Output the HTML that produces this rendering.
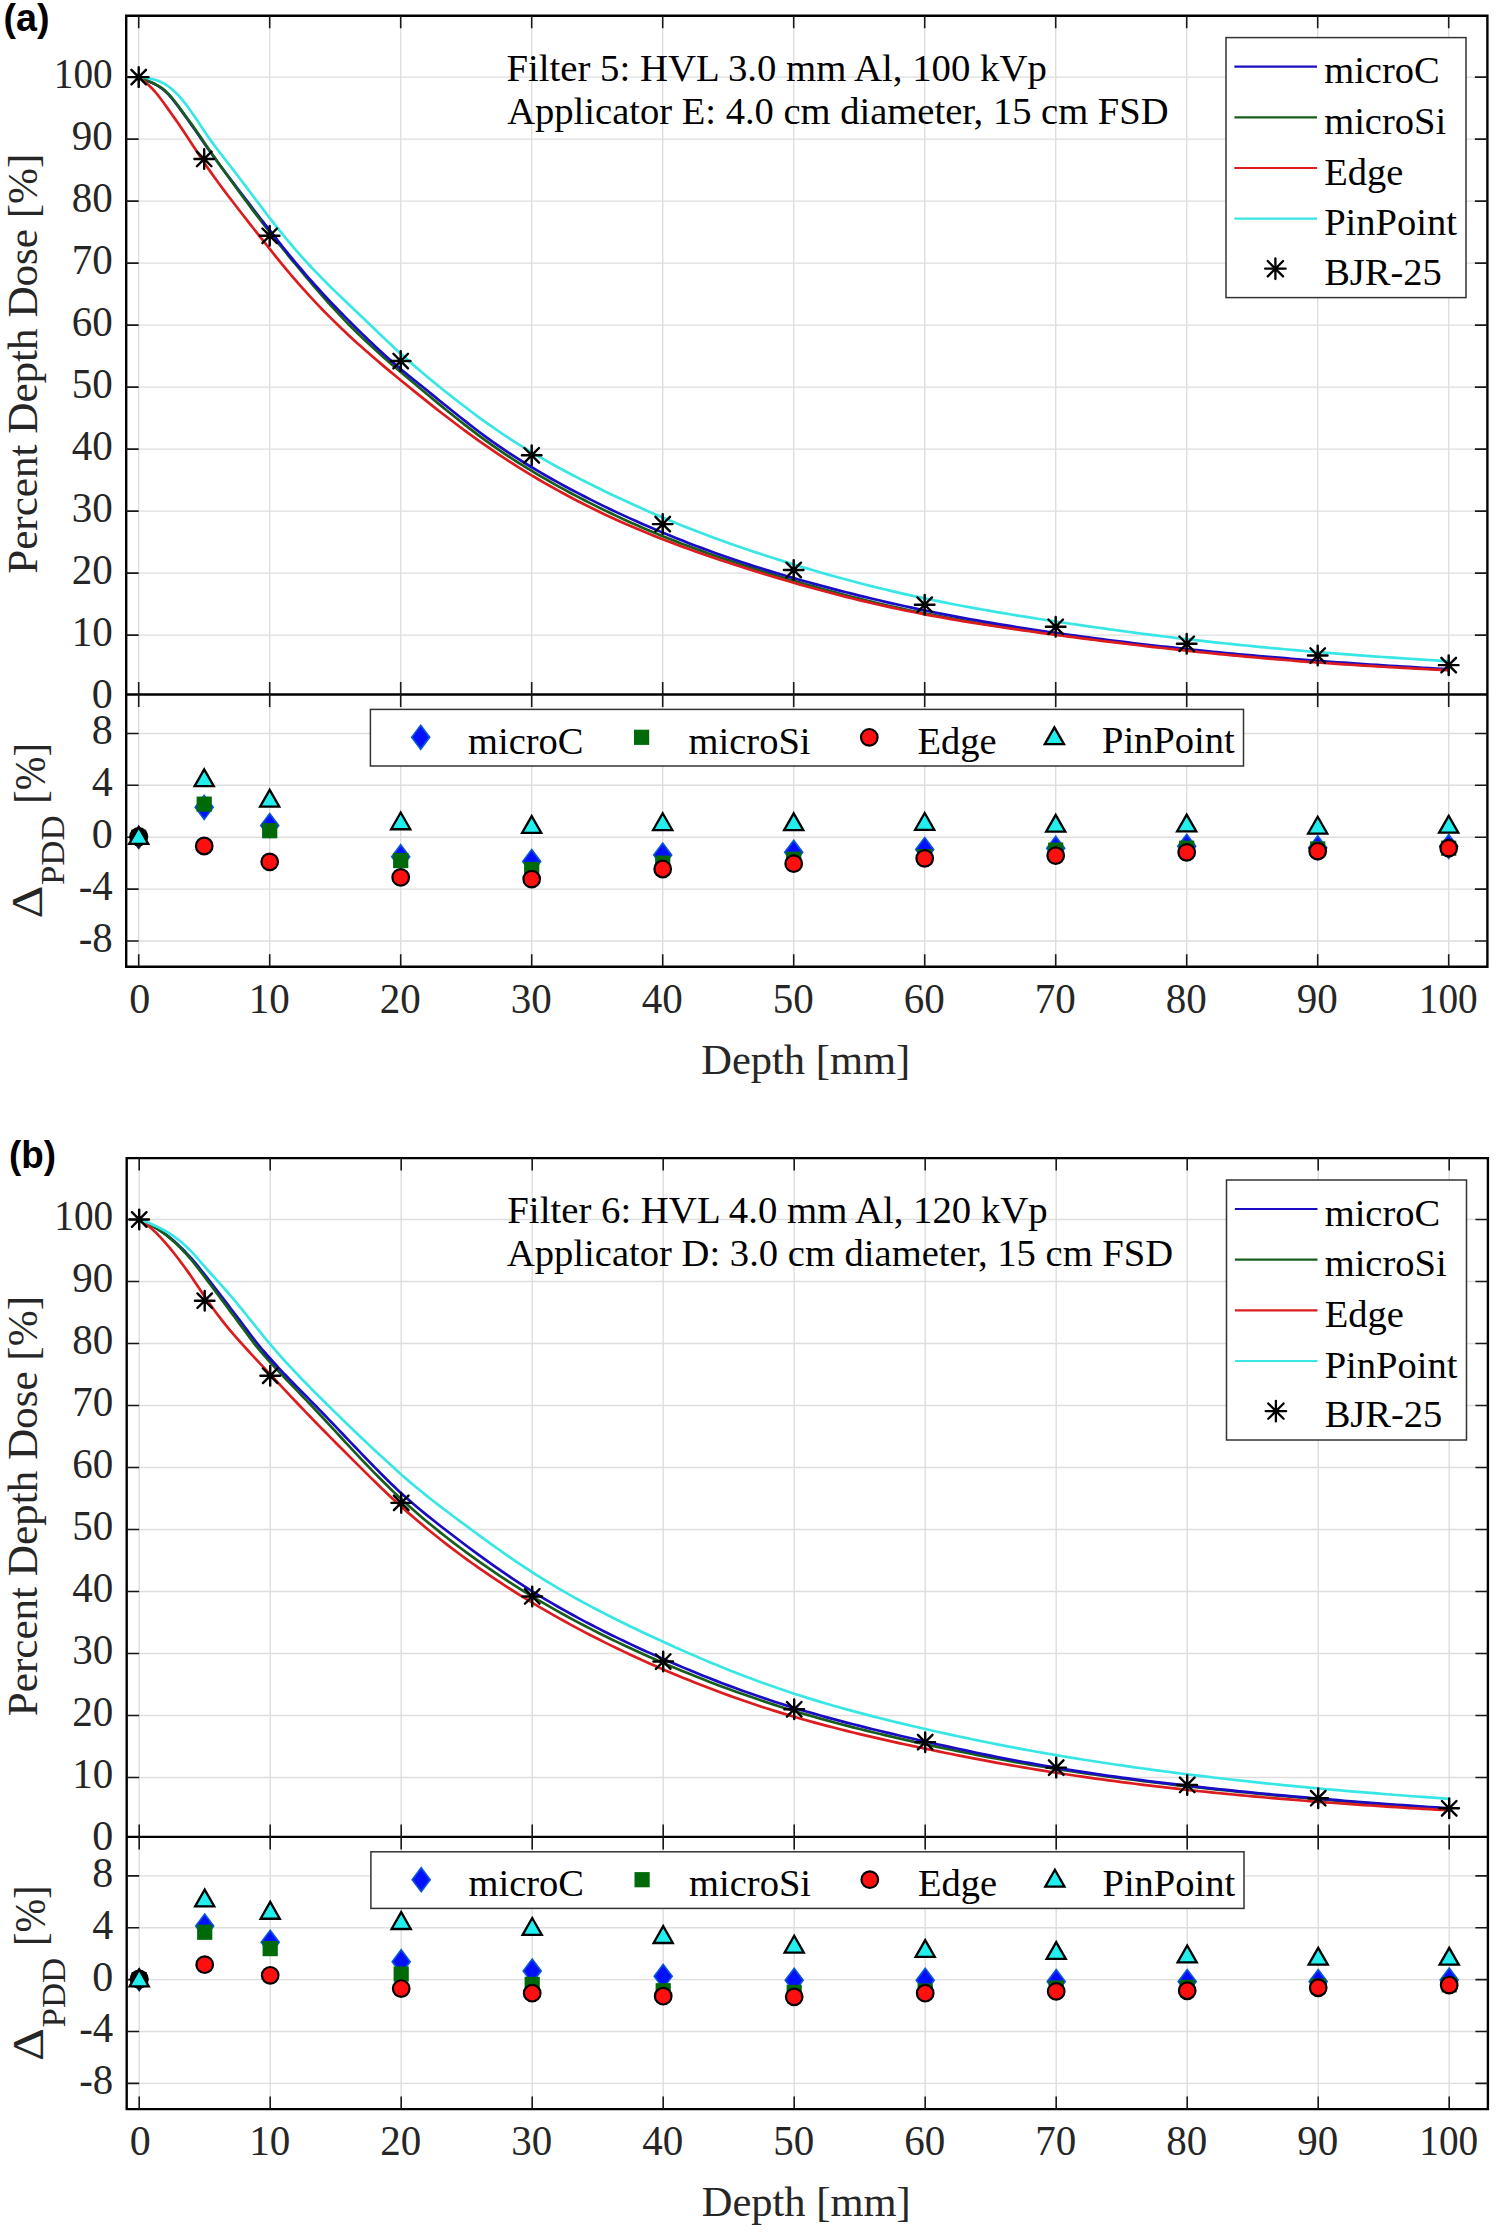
<!DOCTYPE html>
<html><head><meta charset="utf-8"><title>PDD comparison</title>
<style>
html,body{margin:0;padding:0;background:#fff;overflow:hidden;}
svg{display:block;}
text{font-family:"Liberation Serif", serif;fill:#000;}
text.lab{font-family:"Liberation Sans", sans-serif;font-weight:bold;}
text.ax, .axg text{fill:#262626;}
</style></head>
<body>
<svg width="1500" height="2234" viewBox="0 0 1500 2234">
<rect width="1500" height="2234" fill="#fff"/>
<path d="M138.7 15.7V966.7M269.7 15.7V966.7M400.7 15.7V966.7M531.7 15.7V966.7M662.7 15.7V966.7M793.7 15.7V966.7M924.7 15.7V966.7M1055.7 15.7V966.7M1186.7 15.7V966.7M1317.7 15.7V966.7M1448.7 15.7V966.7M126.2 635.1H1487.4M126.2 573.1H1487.4M126.2 511.1H1487.4M126.2 449.1H1487.4M126.2 387.1H1487.4M126.2 325.1H1487.4M126.2 263.1H1487.4M126.2 201.1H1487.4M126.2 139.1H1487.4M126.2 77.1H1487.4M126.2 940.96H1487.4M126.2 889.08H1487.4M126.2 837.2H1487.4M126.2 785.32H1487.4M126.2 733.44H1487.4" stroke="#dedede" stroke-width="1.4" fill="none"/>
<path d="M126.2 15.7H1487.4V966.7H126.2Z M126.2 694.5H1487.4" stroke="#000" stroke-width="2.4" fill="none"/>
<path d="M138.7 15.7v12.5M138.7 694.5v-12.5M138.7 694.5v12.5M138.7 966.7v-12.5M269.7 15.7v12.5M269.7 694.5v-12.5M269.7 694.5v12.5M269.7 966.7v-12.5M400.7 15.7v12.5M400.7 694.5v-12.5M400.7 694.5v12.5M400.7 966.7v-12.5M531.7 15.7v12.5M531.7 694.5v-12.5M531.7 694.5v12.5M531.7 966.7v-12.5M662.7 15.7v12.5M662.7 694.5v-12.5M662.7 694.5v12.5M662.7 966.7v-12.5M793.7 15.7v12.5M793.7 694.5v-12.5M793.7 694.5v12.5M793.7 966.7v-12.5M924.7 15.7v12.5M924.7 694.5v-12.5M924.7 694.5v12.5M924.7 966.7v-12.5M1055.7 15.7v12.5M1055.7 694.5v-12.5M1055.7 694.5v12.5M1055.7 966.7v-12.5M1186.7 15.7v12.5M1186.7 694.5v-12.5M1186.7 694.5v12.5M1186.7 966.7v-12.5M1317.7 15.7v12.5M1317.7 694.5v-12.5M1317.7 694.5v12.5M1317.7 966.7v-12.5M1448.7 15.7v12.5M1448.7 694.5v-12.5M1448.7 694.5v12.5M1448.7 966.7v-12.5M126.2 635.1h12.5M1487.4 635.1h-12.5M126.2 573.1h12.5M1487.4 573.1h-12.5M126.2 511.1h12.5M1487.4 511.1h-12.5M126.2 449.1h12.5M1487.4 449.1h-12.5M126.2 387.1h12.5M1487.4 387.1h-12.5M126.2 325.1h12.5M1487.4 325.1h-12.5M126.2 263.1h12.5M1487.4 263.1h-12.5M126.2 201.1h12.5M1487.4 201.1h-12.5M126.2 139.1h12.5M1487.4 139.1h-12.5M126.2 77.1h12.5M1487.4 77.1h-12.5M126.2 940.96h12.5M1487.4 940.96h-12.5M126.2 889.08h12.5M1487.4 889.08h-12.5M126.2 837.2h12.5M1487.4 837.2h-12.5M126.2 785.32h12.5M1487.4 785.32h-12.5M126.2 733.44h12.5M1487.4 733.44h-12.5" stroke="#1a1a1a" stroke-width="1.6" fill="none"/>
<clipPath id="c0"><rect x="126.2" y="15.7" width="1361.2" height="678.8"/></clipPath>
<g clip-path="url(#c0)" fill="none" stroke-width="2.7" stroke-linejoin="round" stroke-linecap="round">
<path d="M138.7 77.1L141.97 78.51L145.25 79.92L148.52 81.33L151.8 82.77L155.07 84.33L158.35 86.12L161.62 88.27L164.9 90.91L168.17 94.1L171.45 97.79L174.72 101.85L178 106.15L181.27 110.6L184.55 115.14L187.82 119.74L191.1 124.36L194.38 129.02L197.65 133.74L200.92 138.53L204.2 143.31L207.47 148L210.75 152.59L214.02 157.1L217.3 161.56L220.57 165.97L223.85 170.34L227.12 174.71L230.4 179.05L233.67 183.39L236.95 187.71L240.22 192.02L243.5 196.33L246.77 200.62L250.05 204.91L253.32 209.2L256.6 213.47L259.88 217.73L263.15 221.98L266.42 226.21L269.7 230.42L272.98 234.61L276.25 238.78" stroke="#1a0cc4"/>
<path d="M138.7 77.1L141.97 78.48L145.25 79.86L148.52 81.22L151.8 82.6L155.07 84.1L158.35 85.83L161.62 87.91L164.9 90.48L168.17 93.61L171.45 97.24L174.72 101.25L178 105.52L181.27 109.93L184.55 114.43L187.82 118.98L191.1 123.54L194.38 128.15L197.65 132.83L200.92 137.6L204.2 142.41L207.47 147.22L210.75 151.99L214.02 156.73L217.3 161.44L220.57 166.1L223.85 170.72L227.12 175.3L230.4 179.83L233.67 184.33L236.95 188.8L240.22 193.24L243.5 197.66L246.77 202.06L250.05 206.45L253.32 210.82L256.6 215.17L259.88 219.48L263.15 223.77L266.42 228.03L269.7 232.24L272.98 236.42L276.25 240.55L279.52 244.66L282.8 248.73L286.07 252.77L289.35 256.79L292.62 260.79L295.9 264.76L299.17 268.72L302.45 272.65L305.73 276.56L309 280.44L312.27 284.29L315.55 288.11L318.82 291.89L322.1 295.63L325.38 299.33L328.65 302.99L331.92 306.61L335.2 310.18L338.48 313.7L341.75 317.17L345.02 320.59L348.3 323.95L351.57 327.26L354.85 330.52L358.12 333.72L361.4 336.88L364.67 339.99L367.95 343.07L371.23 346.1L374.5 349.09L377.77 352.06L381.05 354.99L384.32 357.89L387.6 360.76L390.88 363.61L394.15 366.44L397.42 369.25L400.7 372.04L407.25 377.57L413.8 383.06L420.35 388.54L426.9 394L433.45 399.45L440 404.86L446.55 410.22L453.1 415.52L459.65 420.74L466.2 425.88L472.75 430.91L479.3 435.85L485.85 440.66L492.4 445.35L498.95 449.91L505.5 454.34L512.05 458.65L518.6 462.84L525.15 466.93L531.7 470.92L538.25 474.83L544.8 478.65L551.35 482.4L557.9 486.07L564.45 489.66L571 493.19L577.55 496.65L584.1 500.04L590.65 503.38L597.2 506.65L603.75 509.86L610.3 513.02L616.85 516.12L623.4 519.17L629.95 522.16L636.5 525.09L643.05 527.96L649.6 530.77L656.15 533.51L662.7 536.2L669.25 538.82L675.8 541.38L682.35 543.89L688.9 546.34L695.45 548.75L702 551.11L708.55 553.42L715.1 555.7L721.65 557.94L728.2 560.14L734.75 562.31L741.3 564.45L747.85 566.56L754.4 568.65L760.95 570.71L767.5 572.74L774.05 574.76L780.6 576.75L787.15 578.72L793.7 580.67L800.25 582.6L806.8 584.5L813.35 586.38L819.9 588.23L826.45 590.05L833 591.84L839.55 593.6L846.1 595.32L852.65 597.02L859.2 598.68L865.75 600.31L872.3 601.91L878.85 603.47L885.4 605L891.95 606.49L898.5 607.94L905.05 609.36L911.6 610.75L918.15 612.09L924.7 613.41L931.25 614.68L937.8 615.92L944.35 617.13L950.9 618.31L957.45 619.45L964 620.58L970.55 621.67L977.1 622.74L983.65 623.8L990.2 624.82L996.75 625.83L1003.3 626.83L1009.85 627.8L1016.4 628.76L1022.95 629.71L1029.5 630.64L1036.05 631.56L1042.6 632.46L1049.15 633.36L1055.7 634.25L1062.25 635.13L1068.8 635.99L1075.35 636.85L1081.9 637.71L1088.45 638.55L1095 639.38L1101.55 640.2L1108.1 641.01L1114.65 641.82L1121.2 642.61L1127.75 643.39L1134.3 644.17L1140.85 644.93L1147.4 645.68L1153.95 646.42L1160.5 647.16L1167.05 647.88L1173.6 648.59L1180.15 649.29L1186.7 649.99L1193.25 650.67L1199.8 651.34L1206.35 652L1212.9 652.65L1219.45 653.29L1226 653.92L1232.55 654.54L1239.1 655.15L1245.65 655.75L1252.2 656.34L1258.75 656.92L1265.3 657.49L1271.85 658.05L1278.4 658.6L1284.95 659.14L1291.5 659.67L1298.05 660.19L1304.6 660.7L1311.15 661.2L1317.7 661.69L1324.25 662.17L1330.8 662.64L1337.35 663.1L1343.9 663.55L1350.45 664L1357 664.44L1363.55 664.87L1370.1 665.29L1376.65 665.7L1383.2 666.11L1389.75 666.51L1396.3 666.91L1402.85 667.3L1409.4 667.68L1415.95 668.06L1422.5 668.43L1429.05 668.8L1435.6 669.16L1442.15 669.52L1448.7 669.87" stroke="#175e1c"/>
<path d="M263.15 221.98L266.42 226.21L269.7 230.42L272.98 234.61L276.25 238.78L279.52 242.92L282.8 247.02L286.07 251.09L289.35 255.12L292.62 259.1L295.9 263.03L299.17 266.92L302.45 270.75L305.73 274.54L309 278.28L312.27 281.97L315.55 285.63L318.82 289.24L322.1 292.81L325.38 296.35L328.65 299.85L331.92 303.31L335.2 306.75L338.48 310.15L341.75 313.51L345.02 316.85L348.3 320.17L351.57 323.45L354.85 326.71L358.12 329.95L361.4 333.15L364.67 336.33L367.95 339.48L371.23 342.59L374.5 345.67L377.77 348.72L381.05 351.73L384.32 354.71L387.6 357.65L390.88 360.54L394.15 363.4L397.42 366.22L400.7 368.99L407.25 374.42L413.8 379.74L420.35 385.02L426.9 390.32L433.45 395.63L440 400.95L446.55 406.26L453.1 411.54L459.65 416.76L466.2 421.92L472.75 426.99L479.3 431.96L485.85 436.83L492.4 441.57L498.95 446.19L505.5 450.66L512.05 454.99L518.6 459.19L525.15 463.27L531.7 467.26L538.25 471.16L544.8 474.98L551.35 478.72L557.9 482.38L564.45 485.96L571 489.48L577.55 492.93L584.1 496.31L590.65 499.63L597.2 502.89L603.75 506.1L610.3 509.25L616.85 512.35L623.4 515.4L629.95 518.39L636.5 521.34L643.05 524.23L649.6 527.08L656.15 529.88L662.7 532.63L669.25 535.33L675.8 537.98L682.35 540.59L688.9 543.15L695.45 545.66L702 548.13L708.55 550.55L715.1 552.93L721.65 555.26L728.2 557.54L734.75 559.78L741.3 561.98L747.85 564.14L754.4 566.25L760.95 568.32L767.5 570.35L774.05 572.34L780.6 574.29L787.15 576.2L793.7 578.08L800.25 579.94L806.8 581.78L813.35 583.59L819.9 585.38L826.45 587.14L833 588.88L839.55 590.59L846.1 592.27L852.65 593.93L859.2 595.57L865.75 597.17L872.3 598.75L878.85 600.31L885.4 601.83L891.95 603.33L898.5 604.8L905.05 606.25L911.6 607.67L918.15 609.06L924.7 610.42L931.25 611.76L937.8 613.07L944.35 614.35L950.9 615.61L957.45 616.85L964 618.06L970.55 619.25L977.1 620.42L983.65 621.57L990.2 622.69L996.75 623.8L1003.3 624.89L1009.85 625.95L1016.4 627L1022.95 628.04L1029.5 629.05L1036.05 630.05L1042.6 631.03L1049.15 631.99L1055.7 632.94L1062.25 633.87L1068.8 634.79L1075.35 635.7L1081.9 636.59L1088.45 637.46L1095 638.32L1101.55 639.17L1108.1 640.01L1114.65 640.83L1121.2 641.64L1127.75 642.43L1134.3 643.22L1140.85 643.99L1147.4 644.75L1153.95 645.5L1160.5 646.23L1167.05 646.96L1173.6 647.67L1180.15 648.37L1186.7 649.06L1193.25 649.74L1199.8 650.41L1206.35 651.07L1212.9 651.72L1219.45 652.36L1226 652.99L1232.55 653.61L1239.1 654.22L1245.65 654.82L1252.2 655.41L1258.75 655.99L1265.3 656.56L1271.85 657.12L1278.4 657.67L1284.95 658.22L1291.5 658.75L1298.05 659.27L1304.6 659.79L1311.15 660.29L1317.7 660.79L1324.25 661.28L1330.8 661.76L1337.35 662.23L1343.9 662.7L1350.45 663.15L1357 663.6L1363.55 664.05L1370.1 664.48L1376.65 664.91L1383.2 665.33L1389.75 665.75L1396.3 666.16L1402.85 666.56L1409.4 666.96L1415.95 667.35L1422.5 667.74L1429.05 668.12L1435.6 668.49L1442.15 668.86L1448.7 669.23" stroke="#1a0cc4"/>
<path d="M138.7 77.1L141.97 79.45L145.25 82.09L148.52 84.97L151.8 88.16L155.07 91.74L158.35 95.73L161.62 100.03L164.9 104.52L168.17 109.09L171.45 113.71L174.72 118.37L178 123.08L181.27 127.87L184.55 132.76L187.82 137.72L191.1 142.74L194.38 147.78L197.65 152.79L200.92 157.76L204.2 162.65L207.47 167.44L210.75 172.13L214.02 176.73L217.3 181.25L220.57 185.71L223.85 190.1L227.12 194.45L230.4 198.76L233.67 203.04L236.95 207.29L240.22 211.52L243.5 215.73L246.77 219.92L250.05 224.1L253.32 228.25L256.6 232.4L259.88 236.54L263.15 240.66L266.42 244.78L269.7 248.9L272.98 253L276.25 257.09L279.52 261.14L282.8 265.15L286.07 269.1L289.35 273L292.62 276.84L295.9 280.64L299.17 284.38L302.45 288.07L305.73 291.72L309 295.31L312.27 298.86L315.55 302.36L318.82 305.81L322.1 309.22L325.38 312.58L328.65 315.89L331.92 319.17L335.2 322.39L338.48 325.58L341.75 328.72L345.02 331.83L348.3 334.89L351.57 337.92L354.85 340.92L358.12 343.88L361.4 346.81L364.67 349.72L367.95 352.59L371.23 355.45L374.5 358.27L377.77 361.08L381.05 363.86L384.32 366.63L387.6 369.38L390.88 372.11L394.15 374.83L397.42 377.53L400.7 380.22L407.25 385.56L413.8 390.88L420.35 396.15L426.9 401.39L433.45 406.58L440 411.71L446.55 416.78L453.1 421.78L459.65 426.71L466.2 431.57L472.75 436.34L479.3 441.04L485.85 445.64L492.4 450.15L498.95 454.57L505.5 458.9L512.05 463.14L518.6 467.29L525.15 471.36L531.7 475.34L538.25 479.24L544.8 483.05L551.35 486.79L557.9 490.44L564.45 494.02L571 497.52L577.55 500.95L584.1 504.29L590.65 507.57L597.2 510.77L603.75 513.91L610.3 516.97L616.85 519.97L623.4 522.9L629.95 525.77L636.5 528.57L643.05 531.32L649.6 534.01L656.15 536.65L662.7 539.23L669.25 541.77L675.8 544.25L682.35 546.68L688.9 549.07L695.45 551.42L702 553.73L708.55 556L715.1 558.23L721.65 560.43L728.2 562.59L734.75 564.72L741.3 566.83L747.85 568.9L754.4 570.95L760.95 572.98L767.5 574.98L774.05 576.95L780.6 578.9L787.15 580.82L793.7 582.72L800.25 584.59L806.8 586.43L813.35 588.25L819.9 590.03L826.45 591.79L833 593.51L839.55 595.21L846.1 596.87L852.65 598.51L859.2 600.11L865.75 601.67L872.3 603.21L878.85 604.71L885.4 606.18L891.95 607.62L898.5 609.03L905.05 610.4L911.6 611.74L918.15 613.04L924.7 614.31L931.25 615.55L937.8 616.76L944.35 617.94L950.9 619.09L957.45 620.22L964 621.32L970.55 622.4L977.1 623.45L983.65 624.49L990.2 625.5L996.75 626.5L1003.3 627.48L1009.85 628.45L1016.4 629.4L1022.95 630.34L1029.5 631.26L1036.05 632.18L1042.6 633.08L1049.15 633.97L1055.7 634.85L1062.25 635.73L1068.8 636.59L1075.35 637.45L1081.9 638.3L1088.45 639.14L1095 639.97L1101.55 640.79L1108.1 641.6L1114.65 642.41L1121.2 643.2L1127.75 643.99L1134.3 644.77L1140.85 645.53L1147.4 646.29L1153.95 647.04L1160.5 647.78L1167.05 648.52L1173.6 649.24L1180.15 649.95L1186.7 650.66L1193.25 651.35L1199.8 652.04L1206.35 652.72L1212.9 653.38L1219.45 654.04L1226 654.69L1232.55 655.32L1239.1 655.95L1245.65 656.56L1252.2 657.16L1258.75 657.75L1265.3 658.33L1271.85 658.9L1278.4 659.45L1284.95 659.99L1291.5 660.52L1298.05 661.04L1304.6 661.55L1311.15 662.04L1317.7 662.52L1324.25 662.99L1330.8 663.45L1337.35 663.89L1343.9 664.33L1350.45 664.75L1357 665.17L1363.55 665.58L1370.1 665.97L1376.65 666.36L1383.2 666.75L1389.75 667.12L1396.3 667.49L1402.85 667.85L1409.4 668.2L1415.95 668.55L1422.5 668.9L1429.05 669.24L1435.6 669.57L1442.15 669.9L1448.7 670.23" stroke="#dc1c1e"/>
<path d="M138.7 77.1L141.97 77.37L145.25 77.77L148.52 78.28L151.8 78.94L155.07 79.81L158.35 80.93L161.62 82.34L164.9 84.1L168.17 86.23L171.45 88.75L174.72 91.66L178 94.97L181.27 98.64L184.55 102.64L187.82 106.94L191.1 111.49L194.38 116.24L197.65 121.12L200.92 126.06L204.2 130.97L207.47 135.76L210.75 140.39L214.02 144.88L217.3 149.26L220.57 153.55L223.85 157.79L227.12 162L230.4 166.21L233.67 170.44L236.95 174.71L240.22 179L243.5 183.31L246.77 187.64L250.05 191.98L253.32 196.33L256.6 200.69L259.88 205.04L263.15 209.38L266.42 213.7L269.7 217.97L272.98 222.19L276.25 226.35L279.52 230.46L282.8 234.51L286.07 238.5L289.35 242.43L292.62 246.3L295.9 250.11L299.17 253.86L302.45 257.54L305.73 261.16L309 264.72L312.27 268.22L315.55 271.66L318.82 275.04L322.1 278.38L325.38 281.68L328.65 284.94L331.92 288.17L335.2 291.37L338.48 294.54L341.75 297.7L345.02 300.83L348.3 303.96L351.57 307.08L354.85 310.19L358.12 313.3L361.4 316.41L364.67 319.52L367.95 322.65L371.23 325.78L374.5 328.93L377.77 332.08L381.05 335.23L384.32 338.37L387.6 341.49L390.88 344.6L394.15 347.68L397.42 350.72L400.7 353.73L407.25 359.62L413.8 365.36L420.35 370.96L426.9 376.45L433.45 381.85L440 387.18L446.55 392.44L453.1 397.63L459.65 402.75L466.2 407.78L472.75 412.73L479.3 417.57L485.85 422.32L492.4 426.96L498.95 431.49L505.5 435.9L512.05 440.2L518.6 444.37L525.15 448.41L531.7 452.33L538.25 456.16L544.8 459.92L551.35 463.6L557.9 467.21L564.45 470.75L571 474.23L577.55 477.65L584.1 481.01L590.65 484.31L597.2 487.56L603.75 490.76L610.3 493.91L616.85 497.01L623.4 500.07L629.95 503.09L636.5 506.06L643.05 509L649.6 511.9L656.15 514.76L662.7 517.57L669.25 520.33L675.8 523.03L682.35 525.68L688.9 528.28L695.45 530.83L702 533.34L708.55 535.8L715.1 538.21L721.65 540.59L728.2 542.93L734.75 545.23L741.3 547.49L747.85 549.72L754.4 551.91L760.95 554.07L767.5 556.2L774.05 558.3L780.6 560.37L787.15 562.41L793.7 564.43L800.25 566.42L806.8 568.38L813.35 570.31L819.9 572.22L826.45 574.09L833 575.94L839.55 577.75L846.1 579.53L852.65 581.28L859.2 583L865.75 584.69L872.3 586.34L878.85 587.96L885.4 589.55L891.95 591.11L898.5 592.64L905.05 594.13L911.6 595.59L918.15 597.02L924.7 598.42L931.25 599.79L937.8 601.13L944.35 602.44L950.9 603.72L957.45 604.98L964 606.21L970.55 607.42L977.1 608.61L983.65 609.77L990.2 610.92L996.75 612.05L1003.3 613.16L1009.85 614.25L1016.4 615.33L1022.95 616.39L1029.5 617.44L1036.05 618.47L1042.6 619.5L1049.15 620.51L1055.7 621.51L1062.25 622.49L1068.8 623.47L1075.35 624.44L1081.9 625.39L1088.45 626.34L1095 627.27L1101.55 628.2L1108.1 629.11L1114.65 630.01L1121.2 630.9L1127.75 631.77L1134.3 632.64L1140.85 633.49L1147.4 634.33L1153.95 635.16L1160.5 635.98L1167.05 636.78L1173.6 637.58L1180.15 638.36L1186.7 639.13L1193.25 639.89L1199.8 640.63L1206.35 641.37L1212.9 642.09L1219.45 642.8L1226 643.5L1232.55 644.19L1239.1 644.87L1245.65 645.53L1252.2 646.18L1258.75 646.83L1265.3 647.46L1271.85 648.07L1278.4 648.68L1284.95 649.28L1291.5 649.86L1298.05 650.44L1304.6 651L1311.15 651.55L1317.7 652.09L1324.25 652.63L1330.8 653.15L1337.35 653.66L1343.9 654.16L1350.45 654.65L1357 655.13L1363.55 655.61L1370.1 656.08L1376.65 656.54L1383.2 656.99L1389.75 657.44L1396.3 657.87L1402.85 658.31L1409.4 658.73L1415.95 659.15L1422.5 659.57L1429.05 659.98L1435.6 660.39L1442.15 660.79L1448.7 661.18" stroke="#38e6e6"/>
</g>
<path d="M128.9 77.1L148.5 77.1M138.7 67.3L138.7 86.9M131.4 69.8L146 84.4M131.4 84.4L146 69.8" stroke="#000" stroke-width="2.4" stroke-linecap="round" fill="none"/>
<path d="M194.4 158.94L214 158.94M204.2 149.14L204.2 168.74M196.9 151.64L211.5 166.24M196.9 166.24L211.5 151.64" stroke="#000" stroke-width="2.4" stroke-linecap="round" fill="none"/>
<path d="M259.9 235.82L279.5 235.82M269.7 226.02L269.7 245.62M262.4 228.52L277 243.12M262.4 243.12L277 228.52" stroke="#000" stroke-width="2.4" stroke-linecap="round" fill="none"/>
<path d="M390.9 361.06L410.5 361.06M400.7 351.26L400.7 370.86M393.4 353.76L408 368.36M393.4 368.36L408 353.76" stroke="#000" stroke-width="2.4" stroke-linecap="round" fill="none"/>
<path d="M521.9 455.3L541.5 455.3M531.7 445.5L531.7 465.1M524.4 448L539 462.6M524.4 462.6L539 448" stroke="#000" stroke-width="2.4" stroke-linecap="round" fill="none"/>
<path d="M652.9 524.12L672.5 524.12M662.7 514.32L662.7 533.92M655.4 516.82L670 531.42M655.4 531.42L670 516.82" stroke="#000" stroke-width="2.4" stroke-linecap="round" fill="none"/>
<path d="M783.9 570L803.5 570M793.7 560.2L793.7 579.8M786.4 562.7L801 577.3M786.4 577.3L801 562.7" stroke="#000" stroke-width="2.4" stroke-linecap="round" fill="none"/>
<path d="M914.9 604.72L934.5 604.72M924.7 594.92L924.7 614.52M917.4 597.42L932 612.02M917.4 612.02L932 597.42" stroke="#000" stroke-width="2.4" stroke-linecap="round" fill="none"/>
<path d="M1045.9 626.79L1065.5 626.79M1055.7 616.99L1055.7 636.59M1048.4 619.49L1063 634.09M1048.4 634.09L1063 619.49" stroke="#000" stroke-width="2.4" stroke-linecap="round" fill="none"/>
<path d="M1176.9 643.78L1196.5 643.78M1186.7 633.98L1186.7 653.58M1179.4 636.48L1194 651.08M1179.4 651.08L1194 636.48" stroke="#000" stroke-width="2.4" stroke-linecap="round" fill="none"/>
<path d="M1307.9 655.56L1327.5 655.56M1317.7 645.76L1317.7 665.36M1310.4 648.26L1325 662.86M1310.4 662.86L1325 648.26" stroke="#000" stroke-width="2.4" stroke-linecap="round" fill="none"/>
<path d="M1438.9 665.17L1458.5 665.17M1448.7 655.37L1448.7 674.97M1441.4 657.87L1456 672.47M1441.4 672.47L1456 657.87" stroke="#000" stroke-width="2.4" stroke-linecap="round" fill="none"/>
<path d="M138.7 825.2L147.7 837.2L138.7 849.7L129.7 837.2Z" fill="#101840"/>
<path d="M204.2 795.37L213.2 807.37L204.2 819.37L195.2 807.37Z" fill="#0010f8" stroke="#0a58d8" stroke-width="1.6" stroke-linejoin="miter"/>
<path d="M269.7 813.53L278.7 825.53L269.7 837.53L260.7 825.53Z" fill="#0010f8" stroke="#0a58d8" stroke-width="1.6" stroke-linejoin="miter"/>
<path d="M400.7 844.66L409.7 856.66L400.7 868.66L391.7 856.66Z" fill="#0010f8" stroke="#0a58d8" stroke-width="1.6" stroke-linejoin="miter"/>
<path d="M531.7 849.58L540.7 861.58L531.7 873.58L522.7 861.58Z" fill="#0010f8" stroke="#0a58d8" stroke-width="1.6" stroke-linejoin="miter"/>
<path d="M662.7 842.97L671.7 854.97L662.7 866.97L653.7 854.97Z" fill="#0010f8" stroke="#0a58d8" stroke-width="1.6" stroke-linejoin="miter"/>
<path d="M793.7 840.25L802.7 852.25L793.7 864.25L784.7 852.25Z" fill="#0010f8" stroke="#0a58d8" stroke-width="1.6" stroke-linejoin="miter"/>
<path d="M924.7 837.52L933.7 849.52L924.7 861.52L915.7 849.52Z" fill="#0010f8" stroke="#0a58d8" stroke-width="1.6" stroke-linejoin="miter"/>
<path d="M1055.7 836.35L1064.7 848.35L1055.7 860.35L1046.7 848.35Z" fill="#0010f8" stroke="#0a58d8" stroke-width="1.6" stroke-linejoin="miter"/>
<path d="M1186.7 834.28L1195.7 846.28L1186.7 858.28L1177.7 846.28Z" fill="#0010f8" stroke="#0a58d8" stroke-width="1.6" stroke-linejoin="miter"/>
<path d="M1317.7 835.84L1326.7 847.84L1317.7 859.84L1308.7 847.84Z" fill="#0010f8" stroke="#0a58d8" stroke-width="1.6" stroke-linejoin="miter"/>
<path d="M1448.7 834.54L1457.7 846.54L1448.7 858.54L1439.7 846.54Z" fill="#0010f8" stroke="#0a58d8" stroke-width="1.6" stroke-linejoin="miter"/>
<rect x="131.1" y="829.6" width="15.2" height="15.2" fill="#006a0a"/>
<rect x="196.6" y="796.53" width="15.2" height="15.2" fill="#006a0a"/>
<rect x="262.1" y="823.12" width="15.2" height="15.2" fill="#006a0a"/>
<rect x="393.1" y="852.95" width="15.2" height="15.2" fill="#006a0a"/>
<rect x="524.1" y="861.9" width="15.2" height="15.2" fill="#006a0a"/>
<rect x="655.1" y="855.54" width="15.2" height="15.2" fill="#006a0a"/>
<rect x="786.1" y="851.65" width="15.2" height="15.2" fill="#006a0a"/>
<rect x="917.1" y="849.06" width="15.2" height="15.2" fill="#006a0a"/>
<rect x="1048.1" y="842.57" width="15.2" height="15.2" fill="#006a0a"/>
<rect x="1179.1" y="840.62" width="15.2" height="15.2" fill="#006a0a"/>
<rect x="1310.1" y="841.4" width="15.2" height="15.2" fill="#006a0a"/>
<rect x="1441.1" y="840.62" width="15.2" height="15.2" fill="#006a0a"/>
<circle cx="138.7" cy="836.7" r="9.6" fill="#000"/>
<circle cx="204.2" cy="846.02" r="8.3" fill="#ff1010" stroke="#000" stroke-width="2.2"/>
<circle cx="269.7" cy="861.84" r="8.3" fill="#ff1010" stroke="#000" stroke-width="2.2"/>
<circle cx="400.7" cy="877.41" r="8.3" fill="#ff1010" stroke="#000" stroke-width="2.2"/>
<circle cx="531.7" cy="879.09" r="8.3" fill="#ff1010" stroke="#000" stroke-width="2.2"/>
<circle cx="662.7" cy="868.98" r="8.3" fill="#ff1010" stroke="#000" stroke-width="2.2"/>
<circle cx="793.7" cy="863.66" r="8.3" fill="#ff1010" stroke="#000" stroke-width="2.2"/>
<circle cx="924.7" cy="858.34" r="8.3" fill="#ff1010" stroke="#000" stroke-width="2.2"/>
<circle cx="1055.7" cy="855.62" r="8.3" fill="#ff1010" stroke="#000" stroke-width="2.2"/>
<circle cx="1186.7" cy="852.37" r="8.3" fill="#ff1010" stroke="#000" stroke-width="2.2"/>
<circle cx="1317.7" cy="851.08" r="8.3" fill="#ff1010" stroke="#000" stroke-width="2.2"/>
<circle cx="1448.7" cy="848.09" r="8.3" fill="#ff1010" stroke="#000" stroke-width="2.2"/>
<path d="M138.7 827.11L148.3 843.91L129.1 843.91Z" fill="#22eeee" stroke="#000" stroke-width="2.3" stroke-linejoin="miter"/>
<path d="M204.2 769.4L213.8 786.2L194.6 786.2Z" fill="#22eeee" stroke="#000" stroke-width="2.3" stroke-linejoin="miter"/>
<path d="M269.7 789.89L279.3 806.69L260.1 806.69Z" fill="#22eeee" stroke="#000" stroke-width="2.3" stroke-linejoin="miter"/>
<path d="M400.7 812.46L410.3 829.26L391.1 829.26Z" fill="#22eeee" stroke="#000" stroke-width="2.3" stroke-linejoin="miter"/>
<path d="M531.7 816.09L541.3 832.89L522.1 832.89Z" fill="#22eeee" stroke="#000" stroke-width="2.3" stroke-linejoin="miter"/>
<path d="M662.7 813.24L672.3 830.04L653.1 830.04Z" fill="#22eeee" stroke="#000" stroke-width="2.3" stroke-linejoin="miter"/>
<path d="M793.7 813.37L803.3 830.17L784.1 830.17Z" fill="#22eeee" stroke="#000" stroke-width="2.3" stroke-linejoin="miter"/>
<path d="M924.7 812.98L934.3 829.78L915.1 829.78Z" fill="#22eeee" stroke="#000" stroke-width="2.3" stroke-linejoin="miter"/>
<path d="M1055.7 814.92L1065.3 831.72L1046.1 831.72Z" fill="#22eeee" stroke="#000" stroke-width="2.3" stroke-linejoin="miter"/>
<path d="M1186.7 814.66L1196.3 831.46L1177.1 831.46Z" fill="#22eeee" stroke="#000" stroke-width="2.3" stroke-linejoin="miter"/>
<path d="M1317.7 816.74L1327.3 833.54L1308.1 833.54Z" fill="#22eeee" stroke="#000" stroke-width="2.3" stroke-linejoin="miter"/>
<path d="M1448.7 815.83L1458.3 832.63L1439.1 832.63Z" fill="#22eeee" stroke="#000" stroke-width="2.3" stroke-linejoin="miter"/>
<rect x="1226" y="37.6" width="240" height="260" fill="#fff" stroke="#333" stroke-width="1.5"/>
<path d="M1234.4 66.6H1317" stroke="#1a0cc4" stroke-width="2.2"/>
<text x="1324.2" y="83.1" font-size="38.5" text-anchor="start" >microC</text>
<path d="M1234.4 117.3H1317" stroke="#175e1c" stroke-width="2.2"/>
<text x="1324.2" y="133.8" font-size="38.5" text-anchor="start" >microSi</text>
<path d="M1234.4 168H1317" stroke="#dc1c1e" stroke-width="2.2"/>
<text x="1324.2" y="184.5" font-size="38.5" text-anchor="start" >Edge</text>
<path d="M1234.4 218.6H1317" stroke="#38e6e6" stroke-width="2.2"/>
<text x="1324.2" y="235.1" font-size="38.5" text-anchor="start" >PinPoint</text>
<path d="M1265.11 268.7L1285.69 268.7M1275.4 258.41L1275.4 278.99M1267.74 261.03L1283.07 276.37M1267.74 276.37L1283.07 261.03" stroke="#000" stroke-width="2.3" stroke-linecap="round" fill="none"/>
<text x="1324.2" y="285" font-size="38.5" text-anchor="start" >BJR-25</text>
<rect x="370.4" y="709.4" width="873.1" height="56.6" fill="#fff" stroke="#333" stroke-width="1.5"/>
<path d="M420.7 725.3L429.7 737.3L420.7 749.3L411.7 737.3Z" fill="#0010f8" stroke="#0a58d8" stroke-width="1.6" stroke-linejoin="miter"/>
<text x="468" y="753.8" font-size="38.5" text-anchor="start" >microC</text>
<rect x="634" y="729.7" width="15.2" height="15.2" fill="#006a0a"/>
<text x="688.6" y="753.8" font-size="38.5" text-anchor="start" >microSi</text>
<circle cx="869.3" cy="737.3" r="8.3" fill="#ff1010" stroke="#000" stroke-width="2.2"/>
<text x="917.6" y="753.8" font-size="38.5" text-anchor="start" >Edge</text>
<path d="M1054.4 727.4L1064 744.2L1044.8 744.2Z" fill="#22eeee" stroke="#000" stroke-width="2.3" stroke-linejoin="miter"/>
<text x="1102" y="753.3" font-size="38.5" text-anchor="start" >PinPoint</text>
<text x="506.4" y="80.6" font-size="38.5" text-anchor="start" textLength="540.4" lengthAdjust="spacingAndGlyphs">Filter 5: HVL 3.0 mm Al, 100 kVp</text>
<text x="507.2" y="123.8" font-size="38.5" text-anchor="start" textLength="661.4" lengthAdjust="spacingAndGlyphs">Applicator E: 4.0 cm diameter, 15 cm FSD</text>
<text x="112.7" y="707.5" font-size="42" text-anchor="end" class="ax" textLength="21" lengthAdjust="spacingAndGlyphs">0</text>
<text x="112.7" y="645.7" font-size="42" text-anchor="end" class="ax" textLength="41" lengthAdjust="spacingAndGlyphs">10</text>
<text x="112.7" y="583.7" font-size="42" text-anchor="end" class="ax" textLength="41" lengthAdjust="spacingAndGlyphs">20</text>
<text x="112.7" y="521.7" font-size="42" text-anchor="end" class="ax" textLength="41" lengthAdjust="spacingAndGlyphs">30</text>
<text x="112.7" y="459.7" font-size="42" text-anchor="end" class="ax" textLength="41" lengthAdjust="spacingAndGlyphs">40</text>
<text x="112.7" y="397.7" font-size="42" text-anchor="end" class="ax" textLength="41" lengthAdjust="spacingAndGlyphs">50</text>
<text x="112.7" y="335.7" font-size="42" text-anchor="end" class="ax" textLength="41" lengthAdjust="spacingAndGlyphs">60</text>
<text x="112.7" y="273.7" font-size="42" text-anchor="end" class="ax" textLength="41" lengthAdjust="spacingAndGlyphs">70</text>
<text x="112.7" y="211.7" font-size="42" text-anchor="end" class="ax" textLength="41" lengthAdjust="spacingAndGlyphs">80</text>
<text x="112.7" y="149.7" font-size="42" text-anchor="end" class="ax" textLength="41" lengthAdjust="spacingAndGlyphs">90</text>
<text x="112.7" y="87.7" font-size="42" text-anchor="end" class="ax" textLength="58.9" lengthAdjust="spacingAndGlyphs">100</text>
<text x="112.7" y="951.96" font-size="42" text-anchor="end" class="ax" textLength="34" lengthAdjust="spacingAndGlyphs">-8</text>
<text x="112.7" y="900.08" font-size="42" text-anchor="end" class="ax" textLength="34" lengthAdjust="spacingAndGlyphs">-4</text>
<text x="112.7" y="848.2" font-size="42" text-anchor="end" class="ax" textLength="21" lengthAdjust="spacingAndGlyphs">0</text>
<text x="112.7" y="796.32" font-size="42" text-anchor="end" class="ax" textLength="21" lengthAdjust="spacingAndGlyphs">4</text>
<text x="112.7" y="744.44" font-size="42" text-anchor="end" class="ax" textLength="21" lengthAdjust="spacingAndGlyphs">8</text>
<text x="139.7" y="1013" font-size="42" text-anchor="middle" class="ax" textLength="21" lengthAdjust="spacingAndGlyphs">0</text>
<text x="269.3" y="1013" font-size="42" text-anchor="middle" class="ax" textLength="41" lengthAdjust="spacingAndGlyphs">10</text>
<text x="400.3" y="1013" font-size="42" text-anchor="middle" class="ax" textLength="41" lengthAdjust="spacingAndGlyphs">20</text>
<text x="531.3" y="1013" font-size="42" text-anchor="middle" class="ax" textLength="41" lengthAdjust="spacingAndGlyphs">30</text>
<text x="662.3" y="1013" font-size="42" text-anchor="middle" class="ax" textLength="41" lengthAdjust="spacingAndGlyphs">40</text>
<text x="793.3" y="1013" font-size="42" text-anchor="middle" class="ax" textLength="41" lengthAdjust="spacingAndGlyphs">50</text>
<text x="924.3" y="1013" font-size="42" text-anchor="middle" class="ax" textLength="41" lengthAdjust="spacingAndGlyphs">60</text>
<text x="1055.3" y="1013" font-size="42" text-anchor="middle" class="ax" textLength="41" lengthAdjust="spacingAndGlyphs">70</text>
<text x="1186.3" y="1013" font-size="42" text-anchor="middle" class="ax" textLength="41" lengthAdjust="spacingAndGlyphs">80</text>
<text x="1317.3" y="1013" font-size="42" text-anchor="middle" class="ax" textLength="41" lengthAdjust="spacingAndGlyphs">90</text>
<text x="1448.3" y="1013" font-size="42" text-anchor="middle" class="ax" textLength="58.9" lengthAdjust="spacingAndGlyphs">100</text>
<text x="701.2" y="1073.9" font-size="43" text-anchor="start" class="ax" textLength="209" lengthAdjust="spacingAndGlyphs">Depth [mm]</text>
<text class="ax" transform="translate(36.6 573.8) rotate(-90)" font-size="43" textLength="420.2" lengthAdjust="spacingAndGlyphs">Percent Depth Dose [%]</text>
<g class="axg" transform="translate(42 917) rotate(-90)"><text x="-1.6" y="0" font-size="44" textLength="33" lengthAdjust="spacingAndGlyphs">&#916;</text><text x="32" y="22" font-size="34" textLength="69.6" lengthAdjust="spacingAndGlyphs">PDD</text><text x="113.3" y="2.7" font-size="44" textLength="60.7" lengthAdjust="spacingAndGlyphs">[%]</text></g>
<text x="3.4" y="30.6" font-size="38.5" class="lab" textLength="46.1" lengthAdjust="spacingAndGlyphs">(a)</text>
<path d="M139.2 1158.1V2109.1M270.2 1158.1V2109.1M401.2 1158.1V2109.1M532.2 1158.1V2109.1M663.2 1158.1V2109.1M794.2 1158.1V2109.1M925.2 1158.1V2109.1M1056.2 1158.1V2109.1M1187.2 1158.1V2109.1M1318.2 1158.1V2109.1M1449.2 1158.1V2109.1M126.7 1777.5H1487.9M126.7 1715.5H1487.9M126.7 1653.5H1487.9M126.7 1591.5H1487.9M126.7 1529.5H1487.9M126.7 1467.5H1487.9M126.7 1405.5H1487.9M126.7 1343.5H1487.9M126.7 1281.5H1487.9M126.7 1219.5H1487.9M126.7 2083.36H1487.9M126.7 2031.48H1487.9M126.7 1979.6H1487.9M126.7 1927.72H1487.9M126.7 1875.84H1487.9" stroke="#dedede" stroke-width="1.4" fill="none"/>
<path d="M126.7 1158.1H1487.9V2109.1H126.7Z M126.7 1836.9H1487.9" stroke="#000" stroke-width="2.4" fill="none"/>
<path d="M139.2 1158.1v12.5M139.2 1836.9v-12.5M139.2 1836.9v12.5M139.2 2109.1v-12.5M270.2 1158.1v12.5M270.2 1836.9v-12.5M270.2 1836.9v12.5M270.2 2109.1v-12.5M401.2 1158.1v12.5M401.2 1836.9v-12.5M401.2 1836.9v12.5M401.2 2109.1v-12.5M532.2 1158.1v12.5M532.2 1836.9v-12.5M532.2 1836.9v12.5M532.2 2109.1v-12.5M663.2 1158.1v12.5M663.2 1836.9v-12.5M663.2 1836.9v12.5M663.2 2109.1v-12.5M794.2 1158.1v12.5M794.2 1836.9v-12.5M794.2 1836.9v12.5M794.2 2109.1v-12.5M925.2 1158.1v12.5M925.2 1836.9v-12.5M925.2 1836.9v12.5M925.2 2109.1v-12.5M1056.2 1158.1v12.5M1056.2 1836.9v-12.5M1056.2 1836.9v12.5M1056.2 2109.1v-12.5M1187.2 1158.1v12.5M1187.2 1836.9v-12.5M1187.2 1836.9v12.5M1187.2 2109.1v-12.5M1318.2 1158.1v12.5M1318.2 1836.9v-12.5M1318.2 1836.9v12.5M1318.2 2109.1v-12.5M1449.2 1158.1v12.5M1449.2 1836.9v-12.5M1449.2 1836.9v12.5M1449.2 2109.1v-12.5M126.7 1777.5h12.5M1487.9 1777.5h-12.5M126.7 1715.5h12.5M1487.9 1715.5h-12.5M126.7 1653.5h12.5M1487.9 1653.5h-12.5M126.7 1591.5h12.5M1487.9 1591.5h-12.5M126.7 1529.5h12.5M1487.9 1529.5h-12.5M126.7 1467.5h12.5M1487.9 1467.5h-12.5M126.7 1405.5h12.5M1487.9 1405.5h-12.5M126.7 1343.5h12.5M1487.9 1343.5h-12.5M126.7 1281.5h12.5M1487.9 1281.5h-12.5M126.7 1219.5h12.5M1487.9 1219.5h-12.5M126.7 2083.36h12.5M1487.9 2083.36h-12.5M126.7 2031.48h12.5M1487.9 2031.48h-12.5M126.7 1979.6h12.5M1487.9 1979.6h-12.5M126.7 1927.72h12.5M1487.9 1927.72h-12.5M126.7 1875.84h12.5M1487.9 1875.84h-12.5" stroke="#1a1a1a" stroke-width="1.6" fill="none"/>
<clipPath id="c1142"><rect x="126.7" y="1158.1" width="1361.2" height="678.8"/></clipPath>
<g clip-path="url(#c1142)" fill="none" stroke-width="2.7" stroke-linejoin="round" stroke-linecap="round">
<path d="M139.2 1219.5L142.47 1220.97L145.75 1222.52L149.02 1224.15L152.3 1225.87L155.57 1227.72L158.85 1229.72L162.12 1231.88L165.4 1234.19L168.67 1236.67L171.95 1239.32L175.22 1242.13L178.5 1245.11L181.77 1248.26L185.05 1251.57L188.32 1255.06L191.6 1258.7L194.88 1262.5L198.15 1266.46L201.42 1270.55L204.7 1274.71L207.97 1278.9L211.25 1283.12L214.52 1287.35L217.8 1291.59L221.07 1295.85L224.35 1300.12L227.62 1304.41L230.9 1308.7L234.17 1313.01L237.45 1317.33L240.72 1321.67L244 1326.03L247.27 1330.41L250.55 1334.79L253.82 1339.11L257.1 1343.31L260.38 1347.35L263.65 1351.25L266.92 1355.04L270.2 1358.73L273.48 1362.34L276.75 1365.9" stroke="#1a0cc4"/>
<path d="M139.2 1219.5L142.47 1220.97L145.75 1222.53L149.02 1224.17L152.3 1225.92L155.57 1227.83L158.85 1229.9L162.12 1232.14L165.4 1234.56L168.67 1237.14L171.95 1239.89L175.22 1242.82L178.5 1245.93L181.77 1249.22L185.05 1252.7L188.32 1256.37L191.6 1260.22L194.88 1264.24L198.15 1268.4L201.42 1272.7L204.7 1277.05L207.97 1281.42L211.25 1285.78L214.52 1290.15L217.8 1294.52L221.07 1298.9L224.35 1303.29L227.62 1307.68L230.9 1312.09L234.17 1316.5L237.45 1320.93L240.72 1325.37L244 1329.82L247.27 1334.29L250.55 1338.74L253.82 1343.06L257.1 1347.18L260.38 1351.14L263.65 1354.95L266.92 1358.65L270.2 1362.27L273.48 1365.83L276.75 1369.35L280.02 1372.83L283.3 1376.28L286.57 1379.71L289.85 1383.11L293.12 1386.51L296.4 1389.91L299.67 1393.3L302.95 1396.7L306.23 1400.12L309.5 1403.55L312.77 1407L316.05 1410.48L319.32 1413.98L322.6 1417.5L325.88 1421.03L329.15 1424.57L332.42 1428.12L335.7 1431.67L338.98 1435.22L342.25 1438.77L345.52 1442.31L348.8 1445.85L352.07 1449.36L355.35 1452.87L358.62 1456.36L361.9 1459.82L365.17 1463.27L368.45 1466.68L371.73 1470.07L375 1473.43L378.27 1476.76L381.55 1480.06L384.82 1483.32L388.1 1486.54L391.38 1489.72L394.65 1492.86L397.92 1495.95L401.2 1499L407.75 1504.97L414.3 1510.77L420.85 1516.41L427.4 1521.92L433.95 1527.31L440.5 1532.58L447.05 1537.75L453.6 1542.82L460.15 1547.79L466.7 1552.66L473.25 1557.44L479.8 1562.12L486.35 1566.71L492.9 1571.21L499.45 1575.63L506 1579.95L512.55 1584.19L519.1 1588.35L525.65 1592.42L532.2 1596.42L538.75 1600.34L545.3 1604.18L551.85 1607.94L558.4 1611.64L564.95 1615.27L571.5 1618.83L578.05 1622.33L584.6 1625.77L591.15 1629.15L597.7 1632.47L604.25 1635.73L610.8 1638.94L617.35 1642.1L623.9 1645.21L630.45 1648.28L637 1651.29L643.55 1654.26L650.1 1657.19L656.65 1660.07L663.2 1662.91L669.75 1665.71L676.3 1668.47L682.85 1671.19L689.4 1673.87L695.95 1676.51L702.5 1679.1L709.05 1681.66L715.6 1684.17L722.15 1686.64L728.7 1689.06L735.25 1691.44L741.8 1693.79L748.35 1696.08L754.9 1698.34L761.45 1700.55L768 1702.72L774.55 1704.85L781.1 1706.94L787.65 1708.98L794.2 1710.98L800.75 1712.94L807.3 1714.87L813.85 1716.75L820.4 1718.6L826.95 1720.41L833.5 1722.19L840.05 1723.93L846.6 1725.65L853.15 1727.33L859.7 1728.99L866.25 1730.62L872.8 1732.23L879.35 1733.81L885.9 1735.36L892.45 1736.9L899 1738.41L905.55 1739.9L912.1 1741.37L918.65 1742.82L925.2 1744.25L931.75 1745.67L938.3 1747.06L944.85 1748.44L951.4 1749.8L957.95 1751.14L964.5 1752.47L971.05 1753.77L977.6 1755.05L984.15 1756.32L990.7 1757.56L997.25 1758.78L1003.8 1759.99L1010.35 1761.17L1016.9 1762.33L1023.45 1763.48L1030 1764.6L1036.55 1765.7L1043.1 1766.79L1049.65 1767.85L1056.2 1768.89L1062.75 1769.92L1069.3 1770.92L1075.85 1771.9L1082.4 1772.87L1088.95 1773.82L1095.5 1774.75L1102.05 1775.67L1108.6 1776.56L1115.15 1777.45L1121.7 1778.32L1128.25 1779.17L1134.8 1780.01L1141.35 1780.84L1147.9 1781.65L1154.45 1782.46L1161 1783.24L1167.55 1784.02L1174.1 1784.79L1180.65 1785.54L1187.2 1786.29L1193.75 1787.02L1200.3 1787.74L1206.85 1788.45L1213.4 1789.16L1219.95 1789.85L1226.5 1790.53L1233.05 1791.21L1239.6 1791.87L1246.15 1792.52L1252.7 1793.17L1259.25 1793.81L1265.8 1794.44L1272.35 1795.06L1278.9 1795.67L1285.45 1796.27L1292 1796.86L1298.55 1797.45L1305.1 1798.03L1311.65 1798.6L1318.2 1799.16L1324.75 1799.71L1331.3 1800.26L1337.85 1800.8L1344.4 1801.33L1350.95 1801.86L1357.5 1802.38L1364.05 1802.89L1370.6 1803.39L1377.15 1803.89L1383.7 1804.38L1390.25 1804.86L1396.8 1805.34L1403.35 1805.81L1409.9 1806.27L1416.45 1806.73L1423 1807.18L1429.55 1807.63L1436.1 1808.07L1442.65 1808.5L1449.2 1808.93" stroke="#175e1c"/>
<path d="M263.65 1351.25L266.92 1355.04L270.2 1358.73L273.48 1362.34L276.75 1365.9L280.02 1369.4L283.3 1372.85L286.57 1376.27L289.85 1379.65L293.12 1383L296.4 1386.33L299.67 1389.65L302.95 1392.97L306.23 1396.28L309.5 1399.6L312.77 1402.93L316.05 1406.27L319.32 1409.64L322.6 1413.02L325.88 1416.42L329.15 1419.83L332.42 1423.25L335.7 1426.68L338.98 1430.11L342.25 1433.54L345.52 1436.98L348.8 1440.41L352.07 1443.84L355.35 1447.27L358.62 1450.69L361.9 1454.09L365.17 1457.49L368.45 1460.87L371.73 1464.24L375 1467.59L378.27 1470.92L381.55 1474.23L384.82 1477.5L388.1 1480.74L391.38 1483.93L394.65 1487.08L397.92 1490.17L401.2 1493.21L407.75 1499.09L414.3 1504.76L420.85 1510.25L427.4 1515.59L433.95 1520.81L440.5 1525.94L447.05 1531.02L453.6 1536.05L460.15 1541.04L466.7 1545.97L473.25 1550.84L479.8 1555.65L486.35 1560.39L492.9 1565.06L499.45 1569.64L506 1574.15L512.55 1578.57L519.1 1582.9L525.65 1587.14L532.2 1591.29L538.75 1595.34L545.3 1599.3L551.85 1603.17L558.4 1606.96L564.95 1610.67L571.5 1614.3L578.05 1617.86L584.6 1621.35L591.15 1624.78L597.7 1628.14L604.25 1631.45L610.8 1634.7L617.35 1637.89L623.9 1641.04L630.45 1644.13L637 1647.18L643.55 1650.18L650.1 1653.14L656.65 1656.07L663.2 1658.95L669.75 1661.8L676.3 1664.61L682.85 1667.38L689.4 1670.11L695.95 1672.8L702.5 1675.45L709.05 1678.06L715.6 1680.62L722.15 1683.14L728.7 1685.62L735.25 1688.05L741.8 1690.44L748.35 1692.78L754.9 1695.07L761.45 1697.32L768 1699.53L774.55 1701.68L781.1 1703.8L787.65 1705.86L794.2 1707.88L800.75 1709.85L807.3 1711.78L813.85 1713.67L820.4 1715.52L826.95 1717.33L833.5 1719.11L840.05 1720.86L846.6 1722.58L853.15 1724.27L859.7 1725.93L866.25 1727.58L872.8 1729.19L879.35 1730.79L885.9 1732.37L892.45 1733.93L899 1735.47L905.55 1737L912.1 1738.52L918.65 1740.02L925.2 1741.51L931.75 1742.99L938.3 1744.46L944.85 1745.91L951.4 1747.36L957.95 1748.78L964.5 1750.19L971.05 1751.58L977.6 1752.95L984.15 1754.31L990.7 1755.64L997.25 1756.95L1003.8 1758.25L1010.35 1759.52L1016.9 1760.76L1023.45 1761.99L1030 1763.19L1036.55 1764.37L1043.1 1765.52L1049.65 1766.65L1056.2 1767.75L1062.75 1768.83L1069.3 1769.89L1075.85 1770.92L1082.4 1771.93L1088.95 1772.92L1095.5 1773.89L1102.05 1774.84L1108.6 1775.77L1115.15 1776.68L1121.7 1777.58L1128.25 1778.45L1134.8 1779.32L1141.35 1780.16L1147.9 1780.99L1154.45 1781.81L1161 1782.61L1167.55 1783.4L1174.1 1784.17L1180.65 1784.93L1187.2 1785.68L1193.75 1786.42L1200.3 1787.15L1206.85 1787.87L1213.4 1788.57L1219.95 1789.27L1226.5 1789.95L1233.05 1790.63L1239.6 1791.29L1246.15 1791.95L1252.7 1792.59L1259.25 1793.23L1265.8 1793.86L1272.35 1794.48L1278.9 1795.09L1285.45 1795.69L1292 1796.28L1298.55 1796.86L1305.1 1797.44L1311.65 1798.01L1318.2 1798.57L1324.75 1799.12L1331.3 1799.67L1337.85 1800.21L1344.4 1800.74L1350.95 1801.26L1357.5 1801.78L1364.05 1802.29L1370.6 1802.79L1377.15 1803.28L1383.7 1803.77L1390.25 1804.26L1396.8 1804.73L1403.35 1805.2L1409.9 1805.67L1416.45 1806.12L1423 1806.57L1429.55 1807.02L1436.1 1807.46L1442.65 1807.89L1449.2 1808.32" stroke="#1a0cc4"/>
<path d="M139.2 1219.5L142.47 1221.48L145.75 1223.82L149.02 1226.37L152.3 1229.2L155.57 1232.28L158.85 1235.61L162.12 1239.14L165.4 1242.85L168.67 1246.71L171.95 1250.69L175.22 1254.78L178.5 1258.99L181.77 1263.32L185.05 1267.77L188.32 1272.36L191.6 1277.07L194.88 1281.9L198.15 1286.79L201.42 1291.69L204.7 1296.53L207.97 1301.29L211.25 1305.94L214.52 1310.48L217.8 1314.89L221.07 1319.18L224.35 1323.33L227.62 1327.35L230.9 1331.26L234.17 1335.08L237.45 1338.82L240.72 1342.5L244 1346.15L247.27 1349.76L250.55 1353.33L253.82 1356.87L257.1 1360.38L260.38 1363.88L263.65 1367.36L266.92 1370.85L270.2 1374.33L273.48 1377.83L276.75 1381.33L280.02 1384.83L283.3 1388.33L286.57 1391.83L289.85 1395.32L293.12 1398.8L296.4 1402.27L299.67 1405.72L302.95 1409.16L306.23 1412.58L309.5 1415.98L312.77 1419.36L316.05 1422.73L319.32 1426.09L322.6 1429.43L325.88 1432.77L329.15 1436.09L332.42 1439.4L335.7 1442.7L338.98 1446L342.25 1449.28L345.52 1452.56L348.8 1455.84L352.07 1459.1L355.35 1462.37L358.62 1465.62L361.9 1468.88L365.17 1472.13L368.45 1475.37L371.73 1478.6L375 1481.81L378.27 1485L381.55 1488.17L384.82 1491.32L388.1 1494.43L391.38 1497.52L394.65 1500.57L397.92 1503.58L401.2 1506.55L407.75 1512.38L414.3 1518.05L420.85 1523.58L427.4 1529L433.95 1534.3L440.5 1539.5L447.05 1544.6L453.6 1549.59L460.15 1554.49L466.7 1559.3L473.25 1564.01L479.8 1568.64L486.35 1573.17L492.9 1577.62L499.45 1581.99L506 1586.28L512.55 1590.49L519.1 1594.62L525.65 1598.67L532.2 1602.65L538.75 1606.56L545.3 1610.4L551.85 1614.18L558.4 1617.88L564.95 1621.53L571.5 1625.1L578.05 1628.62L584.6 1632.08L591.15 1635.48L597.7 1638.82L604.25 1642.11L610.8 1645.34L617.35 1648.52L623.9 1651.65L630.45 1654.73L637 1657.76L643.55 1660.74L650.1 1663.68L656.65 1666.57L663.2 1669.41L669.75 1672.21L676.3 1674.97L682.85 1677.68L689.4 1680.35L695.95 1682.97L702.5 1685.55L709.05 1688.08L715.6 1690.56L722.15 1693L728.7 1695.39L735.25 1697.74L741.8 1700.04L748.35 1702.29L754.9 1704.5L761.45 1706.66L768 1708.78L774.55 1710.85L781.1 1712.88L787.65 1714.86L794.2 1716.8L800.75 1718.69L807.3 1720.54L813.85 1722.35L820.4 1724.12L826.95 1725.86L833.5 1727.56L840.05 1729.23L846.6 1730.87L853.15 1732.48L859.7 1734.07L866.25 1735.62L872.8 1737.16L879.35 1738.67L885.9 1740.15L892.45 1741.62L899 1743.07L905.55 1744.49L912.1 1745.91L918.65 1747.3L925.2 1748.68L931.75 1750.04L938.3 1751.39L944.85 1752.73L951.4 1754.05L957.95 1755.35L964.5 1756.63L971.05 1757.9L977.6 1759.15L984.15 1760.38L990.7 1761.6L997.25 1762.8L1003.8 1763.98L1010.35 1765.14L1016.9 1766.28L1023.45 1767.41L1030 1768.51L1036.55 1769.6L1043.1 1770.67L1049.65 1771.72L1056.2 1772.75L1062.75 1773.76L1069.3 1774.75L1075.85 1775.72L1082.4 1776.68L1088.95 1777.62L1095.5 1778.54L1102.05 1779.45L1108.6 1780.34L1115.15 1781.21L1121.7 1782.07L1128.25 1782.91L1134.8 1783.74L1141.35 1784.55L1147.9 1785.34L1154.45 1786.13L1161 1786.9L1167.55 1787.65L1174.1 1788.39L1180.65 1789.12L1187.2 1789.84L1193.75 1790.54L1200.3 1791.23L1206.85 1791.91L1213.4 1792.58L1219.95 1793.23L1226.5 1793.87L1233.05 1794.51L1239.6 1795.13L1246.15 1795.74L1252.7 1796.34L1259.25 1796.92L1265.8 1797.5L1272.35 1798.07L1278.9 1798.63L1285.45 1799.18L1292 1799.72L1298.55 1800.25L1305.1 1800.77L1311.65 1801.28L1318.2 1801.79L1324.75 1802.28L1331.3 1802.77L1337.85 1803.25L1344.4 1803.72L1350.95 1804.18L1357.5 1804.63L1364.05 1805.08L1370.6 1805.52L1377.15 1805.96L1383.7 1806.39L1390.25 1806.81L1396.8 1807.22L1403.35 1807.63L1409.9 1808.04L1416.45 1808.44L1423 1808.83L1429.55 1809.22L1436.1 1809.6L1442.65 1809.98L1449.2 1810.35" stroke="#dc1c1e"/>
<path d="M139.2 1219.5L142.47 1220.58L145.75 1221.78L149.02 1223.09L152.3 1224.49L155.57 1225.99L158.85 1227.56L162.12 1229.22L165.4 1231L168.67 1232.92L171.95 1235.02L175.22 1237.32L178.5 1239.81L181.77 1242.51L185.05 1245.41L188.32 1248.53L191.6 1251.87L194.88 1255.39L198.15 1259.05L201.42 1262.79L204.7 1266.57L207.97 1270.33L211.25 1274.02L214.52 1277.64L217.8 1281.23L221.07 1284.84L224.35 1288.5L227.62 1292.24L230.9 1296.05L234.17 1299.93L237.45 1303.87L240.72 1307.86L244 1311.89L247.27 1315.97L250.55 1320.06L253.82 1324.16L257.1 1328.25L260.38 1332.31L263.65 1336.34L266.92 1340.32L270.2 1344.24L273.48 1348.08L276.75 1351.86L280.02 1355.58L283.3 1359.24L286.57 1362.84L289.85 1366.39L293.12 1369.9L296.4 1373.37L299.67 1376.8L302.95 1380.19L306.23 1383.55L309.5 1386.88L312.77 1390.18L316.05 1393.47L319.32 1396.73L322.6 1399.98L325.88 1403.22L329.15 1406.45L332.42 1409.66L335.7 1412.87L338.98 1416.07L342.25 1419.26L345.52 1422.44L348.8 1425.61L352.07 1428.76L355.35 1431.91L358.62 1435.04L361.9 1438.16L365.17 1441.26L368.45 1444.36L371.73 1447.43L375 1450.5L378.27 1453.55L381.55 1456.58L384.82 1459.6L388.1 1462.6L391.38 1465.59L394.65 1468.56L397.92 1471.51L401.2 1474.43L407.75 1480.13L414.3 1485.67L420.85 1491.06L427.4 1496.33L433.95 1501.49L440.5 1506.56L447.05 1511.55L453.6 1516.47L460.15 1521.35L466.7 1526.2L473.25 1531.02L479.8 1535.83L486.35 1540.6L492.9 1545.33L499.45 1550L506 1554.61L512.55 1559.15L519.1 1563.61L525.65 1567.98L532.2 1572.25L538.75 1576.41L545.3 1580.48L551.85 1584.45L558.4 1588.33L564.95 1592.13L571.5 1595.85L578.05 1599.49L584.6 1603.07L591.15 1606.58L597.7 1610.02L604.25 1613.41L610.8 1616.74L617.35 1620.02L623.9 1623.26L630.45 1626.44L637 1629.59L643.55 1632.7L650.1 1635.77L656.65 1638.8L663.2 1641.8L669.75 1644.78L676.3 1647.72L682.85 1650.63L689.4 1653.5L695.95 1656.34L702.5 1659.13L709.05 1661.89L715.6 1664.61L722.15 1667.29L728.7 1669.92L735.25 1672.51L741.8 1675.05L748.35 1677.55L754.9 1680L761.45 1682.4L768 1684.76L774.55 1687.07L781.1 1689.33L787.65 1691.54L794.2 1693.7L800.75 1695.81L807.3 1697.87L813.85 1699.89L820.4 1701.87L826.95 1703.8L833.5 1705.7L840.05 1707.56L846.6 1709.38L853.15 1711.17L859.7 1712.92L866.25 1714.65L872.8 1716.34L879.35 1718.01L885.9 1719.65L892.45 1721.27L899 1722.86L905.55 1724.43L912.1 1725.97L918.65 1727.5L925.2 1729L931.75 1730.49L938.3 1731.96L944.85 1733.41L951.4 1734.84L957.95 1736.25L964.5 1737.65L971.05 1739.02L977.6 1740.38L984.15 1741.71L990.7 1743.03L997.25 1744.33L1003.8 1745.61L1010.35 1746.86L1016.9 1748.1L1023.45 1749.33L1030 1750.53L1036.55 1751.71L1043.1 1752.88L1049.65 1754.02L1056.2 1755.15L1062.75 1756.26L1069.3 1757.35L1075.85 1758.42L1082.4 1759.48L1088.95 1760.51L1095.5 1761.54L1102.05 1762.54L1108.6 1763.53L1115.15 1764.5L1121.7 1765.46L1128.25 1766.41L1134.8 1767.34L1141.35 1768.25L1147.9 1769.16L1154.45 1770.04L1161 1770.92L1167.55 1771.78L1174.1 1772.63L1180.65 1773.47L1187.2 1774.29L1193.75 1775.11L1200.3 1775.91L1206.85 1776.7L1213.4 1777.48L1219.95 1778.24L1226.5 1779L1233.05 1779.74L1239.6 1780.48L1246.15 1781.2L1252.7 1781.91L1259.25 1782.61L1265.8 1783.3L1272.35 1783.98L1278.9 1784.64L1285.45 1785.3L1292 1785.95L1298.55 1786.58L1305.1 1787.21L1311.65 1787.82L1318.2 1788.43L1324.75 1789.03L1331.3 1789.61L1337.85 1790.19L1344.4 1790.76L1350.95 1791.32L1357.5 1791.87L1364.05 1792.41L1370.6 1792.95L1377.15 1793.47L1383.7 1793.99L1390.25 1794.51L1396.8 1795.01L1403.35 1795.51L1409.9 1796L1416.45 1796.49L1423 1796.97L1429.55 1797.45L1436.1 1797.91L1442.65 1798.38L1449.2 1798.84" stroke="#38e6e6"/>
</g>
<path d="M129.4 1219.5L149 1219.5M139.2 1209.7L139.2 1229.3M131.9 1212.2L146.5 1226.8M131.9 1226.8L146.5 1212.2" stroke="#000" stroke-width="2.4" stroke-linecap="round" fill="none"/>
<path d="M194.9 1300.72L214.5 1300.72M204.7 1290.92L204.7 1310.52M197.4 1293.42L212 1308.02M197.4 1308.02L212 1293.42" stroke="#000" stroke-width="2.4" stroke-linecap="round" fill="none"/>
<path d="M260.4 1375.74L280 1375.74M270.2 1365.94L270.2 1385.54M262.9 1368.44L277.5 1383.04M262.9 1383.04L277.5 1368.44" stroke="#000" stroke-width="2.4" stroke-linecap="round" fill="none"/>
<path d="M391.4 1502.84L411 1502.84M401.2 1493.04L401.2 1512.64M393.9 1495.54L408.5 1510.14M393.9 1510.14L408.5 1495.54" stroke="#000" stroke-width="2.4" stroke-linecap="round" fill="none"/>
<path d="M522.4 1596.46L542 1596.46M532.2 1586.66L532.2 1606.26M524.9 1589.16L539.5 1603.76M524.9 1603.76L539.5 1589.16" stroke="#000" stroke-width="2.4" stroke-linecap="round" fill="none"/>
<path d="M653.4 1661.56L673 1661.56M663.2 1651.76L663.2 1671.36M655.9 1654.26L670.5 1668.86M655.9 1668.86L670.5 1654.26" stroke="#000" stroke-width="2.4" stroke-linecap="round" fill="none"/>
<path d="M784.4 1709.3L804 1709.3M794.2 1699.5L794.2 1719.1M786.9 1702L801.5 1716.6M786.9 1716.6L801.5 1702" stroke="#000" stroke-width="2.4" stroke-linecap="round" fill="none"/>
<path d="M915.4 1742.16L935 1742.16M925.2 1732.36L925.2 1751.96M917.9 1734.86L932.5 1749.46M917.9 1749.46L932.5 1734.86" stroke="#000" stroke-width="2.4" stroke-linecap="round" fill="none"/>
<path d="M1046.4 1767.58L1066 1767.58M1056.2 1757.78L1056.2 1777.38M1048.9 1760.28L1063.5 1774.88M1048.9 1774.88L1063.5 1760.28" stroke="#000" stroke-width="2.4" stroke-linecap="round" fill="none"/>
<path d="M1177.4 1784.94L1197 1784.94M1187.2 1775.14L1187.2 1794.74M1179.9 1777.64L1194.5 1792.24M1179.9 1792.24L1194.5 1777.64" stroke="#000" stroke-width="2.4" stroke-linecap="round" fill="none"/>
<path d="M1308.4 1798.21L1328 1798.21M1318.2 1788.41L1318.2 1808.01M1310.9 1790.91L1325.5 1805.51M1310.9 1805.51L1325.5 1790.91" stroke="#000" stroke-width="2.4" stroke-linecap="round" fill="none"/>
<path d="M1439.4 1808.31L1459 1808.31M1449.2 1798.51L1449.2 1818.11M1441.9 1801.01L1456.5 1815.61M1441.9 1815.61L1456.5 1801.01" stroke="#000" stroke-width="2.4" stroke-linecap="round" fill="none"/>
<path d="M139.2 1967.6L148.2 1979.6L139.2 1992.1L130.2 1979.6Z" fill="#101840"/>
<path d="M204.7 1914.03L213.7 1926.03L204.7 1938.03L195.7 1926.03Z" fill="#0010f8" stroke="#0a58d8" stroke-width="1.6" stroke-linejoin="miter"/>
<path d="M270.2 1930.25L279.2 1942.25L270.2 1954.25L261.2 1942.25Z" fill="#0010f8" stroke="#0a58d8" stroke-width="1.6" stroke-linejoin="miter"/>
<path d="M401.2 1949.7L410.2 1961.7L401.2 1973.7L392.2 1961.7Z" fill="#0010f8" stroke="#0a58d8" stroke-width="1.6" stroke-linejoin="miter"/>
<path d="M532.2 1959.04L541.2 1971.04L532.2 1983.04L523.2 1971.04Z" fill="#0010f8" stroke="#0a58d8" stroke-width="1.6" stroke-linejoin="miter"/>
<path d="M663.2 1964.36L672.2 1976.36L663.2 1988.36L654.2 1976.36Z" fill="#0010f8" stroke="#0a58d8" stroke-width="1.6" stroke-linejoin="miter"/>
<path d="M794.2 1968.25L803.2 1980.25L794.2 1992.25L785.2 1980.25Z" fill="#0010f8" stroke="#0a58d8" stroke-width="1.6" stroke-linejoin="miter"/>
<path d="M925.2 1968.25L934.2 1980.25L925.2 1992.25L916.2 1980.25Z" fill="#0010f8" stroke="#0a58d8" stroke-width="1.6" stroke-linejoin="miter"/>
<path d="M1056.2 1969.55L1065.2 1981.55L1056.2 1993.55L1047.2 1981.55Z" fill="#0010f8" stroke="#0a58d8" stroke-width="1.6" stroke-linejoin="miter"/>
<path d="M1187.2 1969.55L1196.2 1981.55L1187.2 1993.55L1178.2 1981.55Z" fill="#0010f8" stroke="#0a58d8" stroke-width="1.6" stroke-linejoin="miter"/>
<path d="M1318.2 1969.55L1327.2 1981.55L1318.2 1993.55L1309.2 1981.55Z" fill="#0010f8" stroke="#0a58d8" stroke-width="1.6" stroke-linejoin="miter"/>
<path d="M1449.2 1967.99L1458.2 1979.99L1449.2 1991.99L1440.2 1979.99Z" fill="#0010f8" stroke="#0a58d8" stroke-width="1.6" stroke-linejoin="miter"/>
<rect x="131.6" y="1972" width="15.2" height="15.2" fill="#006a0a"/>
<rect x="197.1" y="1924.66" width="15.2" height="15.2" fill="#006a0a"/>
<rect x="262.6" y="1941" width="15.2" height="15.2" fill="#006a0a"/>
<rect x="393.6" y="1966.42" width="15.2" height="15.2" fill="#006a0a"/>
<rect x="524.6" y="1976.8" width="15.2" height="15.2" fill="#006a0a"/>
<rect x="655.6" y="1983.15" width="15.2" height="15.2" fill="#006a0a"/>
<rect x="786.6" y="1984.84" width="15.2" height="15.2" fill="#006a0a"/>
<rect x="917.6" y="1983.41" width="15.2" height="15.2" fill="#006a0a"/>
<rect x="1048.6" y="1980.43" width="15.2" height="15.2" fill="#006a0a"/>
<rect x="1179.6" y="1979.78" width="15.2" height="15.2" fill="#006a0a"/>
<rect x="1310.6" y="1978.49" width="15.2" height="15.2" fill="#006a0a"/>
<rect x="1441.6" y="1977.19" width="15.2" height="15.2" fill="#006a0a"/>
<circle cx="139.2" cy="1979.1" r="9.6" fill="#000"/>
<circle cx="204.7" cy="1964.68" r="8.3" fill="#ff1010" stroke="#000" stroke-width="2.2"/>
<circle cx="270.2" cy="1975.32" r="8.3" fill="#ff1010" stroke="#000" stroke-width="2.2"/>
<circle cx="401.2" cy="1988.55" r="8.3" fill="#ff1010" stroke="#000" stroke-width="2.2"/>
<circle cx="532.2" cy="1993.22" r="8.3" fill="#ff1010" stroke="#000" stroke-width="2.2"/>
<circle cx="663.2" cy="1996.2" r="8.3" fill="#ff1010" stroke="#000" stroke-width="2.2"/>
<circle cx="794.2" cy="1996.85" r="8.3" fill="#ff1010" stroke="#000" stroke-width="2.2"/>
<circle cx="925.2" cy="1993.22" r="8.3" fill="#ff1010" stroke="#000" stroke-width="2.2"/>
<circle cx="1056.2" cy="1991.4" r="8.3" fill="#ff1010" stroke="#000" stroke-width="2.2"/>
<circle cx="1187.2" cy="1990.75" r="8.3" fill="#ff1010" stroke="#000" stroke-width="2.2"/>
<circle cx="1318.2" cy="1987.77" r="8.3" fill="#ff1010" stroke="#000" stroke-width="2.2"/>
<circle cx="1449.2" cy="1985.05" r="8.3" fill="#ff1010" stroke="#000" stroke-width="2.2"/>
<path d="M139.2 1969.51L148.8 1986.31L129.6 1986.31Z" fill="#22eeee" stroke="#000" stroke-width="2.3" stroke-linejoin="miter"/>
<path d="M204.7 1889.62L214.3 1906.42L195.1 1906.42Z" fill="#22eeee" stroke="#000" stroke-width="2.3" stroke-linejoin="miter"/>
<path d="M270.2 1901.94L279.8 1918.74L260.6 1918.74Z" fill="#22eeee" stroke="#000" stroke-width="2.3" stroke-linejoin="miter"/>
<path d="M401.2 1912.19L410.8 1928.99L391.6 1928.99Z" fill="#22eeee" stroke="#000" stroke-width="2.3" stroke-linejoin="miter"/>
<path d="M532.2 1918.02L541.8 1934.82L522.6 1934.82Z" fill="#22eeee" stroke="#000" stroke-width="2.3" stroke-linejoin="miter"/>
<path d="M663.2 1926.19L672.8 1942.99L653.6 1942.99Z" fill="#22eeee" stroke="#000" stroke-width="2.3" stroke-linejoin="miter"/>
<path d="M794.2 1935.79L803.8 1952.59L784.6 1952.59Z" fill="#22eeee" stroke="#000" stroke-width="2.3" stroke-linejoin="miter"/>
<path d="M925.2 1940.07L934.8 1956.87L915.6 1956.87Z" fill="#22eeee" stroke="#000" stroke-width="2.3" stroke-linejoin="miter"/>
<path d="M1056.2 1942.15L1065.8 1958.95L1046.6 1958.95Z" fill="#22eeee" stroke="#000" stroke-width="2.3" stroke-linejoin="miter"/>
<path d="M1187.2 1945.52L1196.8 1962.32L1177.6 1962.32Z" fill="#22eeee" stroke="#000" stroke-width="2.3" stroke-linejoin="miter"/>
<path d="M1318.2 1947.85L1327.8 1964.65L1308.6 1964.65Z" fill="#22eeee" stroke="#000" stroke-width="2.3" stroke-linejoin="miter"/>
<path d="M1449.2 1947.85L1458.8 1964.65L1439.6 1964.65Z" fill="#22eeee" stroke="#000" stroke-width="2.3" stroke-linejoin="miter"/>
<rect x="1226.5" y="1180" width="240" height="260" fill="#fff" stroke="#333" stroke-width="1.5"/>
<path d="M1234.9 1209H1317.5" stroke="#1a0cc4" stroke-width="2.2"/>
<text x="1324.7" y="1225.5" font-size="38.5" text-anchor="start" >microC</text>
<path d="M1234.9 1259.7H1317.5" stroke="#175e1c" stroke-width="2.2"/>
<text x="1324.7" y="1276.2" font-size="38.5" text-anchor="start" >microSi</text>
<path d="M1234.9 1310.4H1317.5" stroke="#dc1c1e" stroke-width="2.2"/>
<text x="1324.7" y="1326.9" font-size="38.5" text-anchor="start" >Edge</text>
<path d="M1234.9 1361H1317.5" stroke="#38e6e6" stroke-width="2.2"/>
<text x="1324.7" y="1377.5" font-size="38.5" text-anchor="start" >PinPoint</text>
<path d="M1265.61 1411.1L1286.19 1411.1M1275.9 1400.81L1275.9 1421.39M1268.24 1403.44L1283.57 1418.77M1268.24 1418.77L1283.57 1403.44" stroke="#000" stroke-width="2.3" stroke-linecap="round" fill="none"/>
<text x="1324.7" y="1427.4" font-size="38.5" text-anchor="start" >BJR-25</text>
<rect x="370.9" y="1851.8" width="873.1" height="56.6" fill="#fff" stroke="#333" stroke-width="1.5"/>
<path d="M421.2 1867.7L430.2 1879.7L421.2 1891.7L412.2 1879.7Z" fill="#0010f8" stroke="#0a58d8" stroke-width="1.6" stroke-linejoin="miter"/>
<text x="468.5" y="1896.2" font-size="38.5" text-anchor="start" >microC</text>
<rect x="634.5" y="1872.1" width="15.2" height="15.2" fill="#006a0a"/>
<text x="689.1" y="1896.2" font-size="38.5" text-anchor="start" >microSi</text>
<circle cx="869.8" cy="1879.7" r="8.3" fill="#ff1010" stroke="#000" stroke-width="2.2"/>
<text x="918.1" y="1896.2" font-size="38.5" text-anchor="start" >Edge</text>
<path d="M1054.9 1869.8L1064.5 1886.6L1045.3 1886.6Z" fill="#22eeee" stroke="#000" stroke-width="2.3" stroke-linejoin="miter"/>
<text x="1102.5" y="1895.7" font-size="38.5" text-anchor="start" >PinPoint</text>
<text x="507.3" y="1223" font-size="38.5" text-anchor="start" textLength="540.4" lengthAdjust="spacingAndGlyphs">Filter 6: HVL 4.0 mm Al, 120 kVp</text>
<text x="506.9" y="1266.2" font-size="38.5" text-anchor="start" textLength="666.3" lengthAdjust="spacingAndGlyphs">Applicator D: 3.0 cm diameter, 15 cm FSD</text>
<text x="113.2" y="1849.9" font-size="42" text-anchor="end" class="ax" textLength="21" lengthAdjust="spacingAndGlyphs">0</text>
<text x="113.2" y="1788.1" font-size="42" text-anchor="end" class="ax" textLength="41" lengthAdjust="spacingAndGlyphs">10</text>
<text x="113.2" y="1726.1" font-size="42" text-anchor="end" class="ax" textLength="41" lengthAdjust="spacingAndGlyphs">20</text>
<text x="113.2" y="1664.1" font-size="42" text-anchor="end" class="ax" textLength="41" lengthAdjust="spacingAndGlyphs">30</text>
<text x="113.2" y="1602.1" font-size="42" text-anchor="end" class="ax" textLength="41" lengthAdjust="spacingAndGlyphs">40</text>
<text x="113.2" y="1540.1" font-size="42" text-anchor="end" class="ax" textLength="41" lengthAdjust="spacingAndGlyphs">50</text>
<text x="113.2" y="1478.1" font-size="42" text-anchor="end" class="ax" textLength="41" lengthAdjust="spacingAndGlyphs">60</text>
<text x="113.2" y="1416.1" font-size="42" text-anchor="end" class="ax" textLength="41" lengthAdjust="spacingAndGlyphs">70</text>
<text x="113.2" y="1354.1" font-size="42" text-anchor="end" class="ax" textLength="41" lengthAdjust="spacingAndGlyphs">80</text>
<text x="113.2" y="1292.1" font-size="42" text-anchor="end" class="ax" textLength="41" lengthAdjust="spacingAndGlyphs">90</text>
<text x="113.2" y="1230.1" font-size="42" text-anchor="end" class="ax" textLength="58.9" lengthAdjust="spacingAndGlyphs">100</text>
<text x="113.2" y="2094.36" font-size="42" text-anchor="end" class="ax" textLength="34" lengthAdjust="spacingAndGlyphs">-8</text>
<text x="113.2" y="2042.48" font-size="42" text-anchor="end" class="ax" textLength="34" lengthAdjust="spacingAndGlyphs">-4</text>
<text x="113.2" y="1990.6" font-size="42" text-anchor="end" class="ax" textLength="21" lengthAdjust="spacingAndGlyphs">0</text>
<text x="113.2" y="1938.72" font-size="42" text-anchor="end" class="ax" textLength="21" lengthAdjust="spacingAndGlyphs">4</text>
<text x="113.2" y="1886.84" font-size="42" text-anchor="end" class="ax" textLength="21" lengthAdjust="spacingAndGlyphs">8</text>
<text x="140.2" y="2155.4" font-size="42" text-anchor="middle" class="ax" textLength="21" lengthAdjust="spacingAndGlyphs">0</text>
<text x="269.8" y="2155.4" font-size="42" text-anchor="middle" class="ax" textLength="41" lengthAdjust="spacingAndGlyphs">10</text>
<text x="400.8" y="2155.4" font-size="42" text-anchor="middle" class="ax" textLength="41" lengthAdjust="spacingAndGlyphs">20</text>
<text x="531.8" y="2155.4" font-size="42" text-anchor="middle" class="ax" textLength="41" lengthAdjust="spacingAndGlyphs">30</text>
<text x="662.8" y="2155.4" font-size="42" text-anchor="middle" class="ax" textLength="41" lengthAdjust="spacingAndGlyphs">40</text>
<text x="793.8" y="2155.4" font-size="42" text-anchor="middle" class="ax" textLength="41" lengthAdjust="spacingAndGlyphs">50</text>
<text x="924.8" y="2155.4" font-size="42" text-anchor="middle" class="ax" textLength="41" lengthAdjust="spacingAndGlyphs">60</text>
<text x="1055.8" y="2155.4" font-size="42" text-anchor="middle" class="ax" textLength="41" lengthAdjust="spacingAndGlyphs">70</text>
<text x="1186.8" y="2155.4" font-size="42" text-anchor="middle" class="ax" textLength="41" lengthAdjust="spacingAndGlyphs">80</text>
<text x="1317.8" y="2155.4" font-size="42" text-anchor="middle" class="ax" textLength="41" lengthAdjust="spacingAndGlyphs">90</text>
<text x="1448.8" y="2155.4" font-size="42" text-anchor="middle" class="ax" textLength="58.9" lengthAdjust="spacingAndGlyphs">100</text>
<text x="701.7" y="2216.3" font-size="43" text-anchor="start" class="ax" textLength="209" lengthAdjust="spacingAndGlyphs">Depth [mm]</text>
<text class="ax" transform="translate(37.1 1716.2) rotate(-90)" font-size="43" textLength="420.2" lengthAdjust="spacingAndGlyphs">Percent Depth Dose [%]</text>
<g class="axg" transform="translate(42.5 2059.4) rotate(-90)"><text x="-1.6" y="0" font-size="44" textLength="33" lengthAdjust="spacingAndGlyphs">&#916;</text><text x="32" y="22" font-size="34" textLength="69.6" lengthAdjust="spacingAndGlyphs">PDD</text><text x="113.3" y="2.7" font-size="44" textLength="60.7" lengthAdjust="spacingAndGlyphs">[%]</text></g>
<text x="9.05" y="1168.3" font-size="38.5" class="lab" textLength="47" lengthAdjust="spacingAndGlyphs">(b)</text>
</svg>
</body></html>
